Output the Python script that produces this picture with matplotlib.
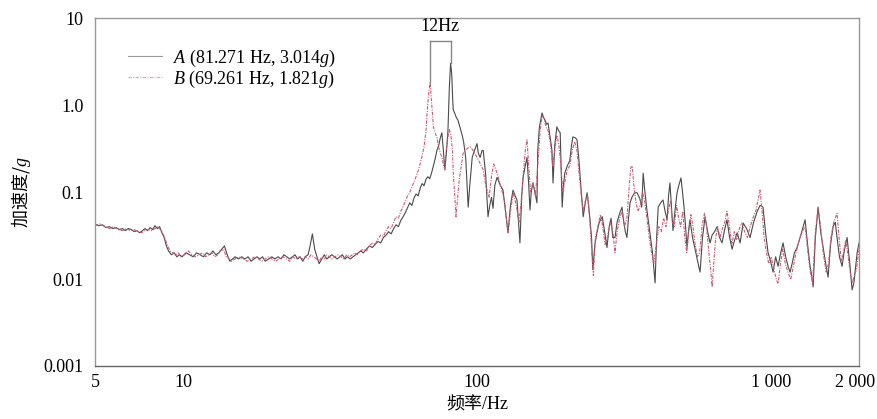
import numpy as np
import matplotlib
matplotlib.use("Agg")
import matplotlib.pyplot as plt
import matplotlib.transforms as mtransforms
from matplotlib.ticker import FixedLocator, FixedFormatter, NullLocator

# 频率 (Hz) / 加速度 (g)
freq_a = [5.0, 5.15, 5.3, 5.45, 5.6, 5.75, 5.9, 6.05, 6.2, 6.35, 6.5, 6.65, 6.8, 6.95, 7.1, 7.25,
          7.4, 7.55, 7.7, 7.85, 8.0, 8.15, 8.3, 8.45, 8.6, 8.75, 8.9, 9.1, 9.3, 9.5, 9.7, 9.9,
          10.2, 10.5, 10.8, 11.1, 11.4, 11.7, 12.0, 12.3, 12.6, 12.9, 13.2, 13.5, 13.8, 14.1,
          14.4, 14.7, 15.0, 15.4, 15.8, 16.2, 16.6, 17.0, 17.4, 17.8, 18.2, 18.6, 19.0, 19.5,
          20.0, 20.5, 21.0, 21.5, 22.0, 22.5, 23.0, 23.5, 24.0, 24.5, 25.0, 25.5, 26.0, 26.6,
          27.0, 27.5, 28.0, 28.5, 29.0, 29.6, 30.2, 30.8, 31.4, 32.0, 32.7, 33.4, 34.1, 34.8,
          35.5, 36.2, 37.0, 37.8, 38.6, 39.4, 40.2, 41.0, 42.0, 43.0, 44.0, 45.0, 46.0, 47.0,
          48.0, 49.0, 50.0, 51.0, 52.0, 53.0, 54.0, 55.0, 56.0, 57.0, 58.0, 59.0, 60.0, 61.0,
          62.0, 63.0, 64.0, 65.0, 66.0, 67.0, 68.0, 69.0, 70.0, 71.0, 72.0, 73.0, 74.0, 75.0,
          75.9, 76.8, 77.7, 78.5, 79.6, 80.5, 81.271, 82.0, 82.6, 83.0, 84.0, 85.0, 86.1, 87.5,
          89.0, 90.0, 91.5, 93.3, 94.5, 96.3, 98.0, 100.0, 101.0, 102.5, 104.0, 105.0, 107.0,
          109.0, 110.5, 112.0, 113.4, 115, 117, 120, 122.6, 125, 127.5, 130, 132.6, 135, 136.8,
          138.5, 140, 142, 143.5, 146, 148, 150, 151.5, 153, 155, 157.5, 160, 161, 163, 166.5,
          168.5, 170.5, 172.5, 174.5, 177, 180, 181.5, 184, 187, 190, 192, 195, 197, 199, 203,
          207, 210, 212, 216, 219, 222, 224, 227, 230, 233, 237, 240, 243, 245.5, 248, 252, 256,
          261, 267, 272, 277, 282, 286, 290, 295, 300, 305, 311.8, 316, 320, 324, 328, 332, 337,
          344, 351, 358, 364, 368, 372, 379, 388, 396, 404, 409, 414, 422, 430, 437, 444, 449,
          454, 459, 465, 472, 480, 487, 495, 501, 507, 513, 519, 525, 531, 542, 553, 564, 575,
          586, 598, 610, 622, 632, 644, 657, 670, 683, 696, 710, 725, 739, 754, 769, 787, 806,
          828, 851, 875, 900, 920, 942, 960, 980, 1000, 1019, 1040, 1060, 1082, 1102, 1125,
          1146, 1165, 1183, 1205, 1230, 1260, 1290, 1310, 1336, 1362, 1380, 1395, 1420, 1451,
          1480, 1509, 1540, 1569, 1600, 1632, 1660, 1683, 1715, 1751, 1785, 1821, 1860, 1894,
          1920, 1939, 1970, 2000]
acc_a = [0.043, 0.041, 0.042, 0.039, 0.040, 0.038, 0.039, 0.037, 0.038, 0.036, 0.038, 0.037, 0.035,
         0.036, 0.034, 0.036, 0.038, 0.036, 0.039, 0.037, 0.041, 0.038, 0.040, 0.034, 0.030, 0.024,
         0.021, 0.019, 0.020, 0.018, 0.019, 0.018, 0.020, 0.019, 0.018, 0.020, 0.019, 0.018, 0.020,
         0.019, 0.021, 0.019, 0.020, 0.022, 0.024, 0.019, 0.016, 0.017, 0.018, 0.017, 0.018, 0.017,
         0.018, 0.016, 0.017, 0.018, 0.017, 0.018, 0.016, 0.017, 0.018, 0.017, 0.018, 0.017, 0.019,
         0.018, 0.017, 0.018, 0.019, 0.017, 0.018, 0.016, 0.018, 0.019, 0.024, 0.033, 0.022, 0.018,
         0.015, 0.017, 0.019, 0.017, 0.018, 0.019, 0.018, 0.017, 0.018, 0.019, 0.017, 0.018, 0.017,
         0.018, 0.019, 0.020, 0.021, 0.020, 0.022, 0.024, 0.023, 0.025, 0.027, 0.026, 0.030, 0.032,
         0.035, 0.033, 0.038, 0.042, 0.040, 0.047, 0.052, 0.058, 0.066, 0.075, 0.070, 0.085, 0.095,
         0.090, 0.110, 0.125, 0.118, 0.140, 0.150, 0.142, 0.165, 0.200, 0.240, 0.300, 0.340, 0.420,
         0.480, 0.300, 0.180, 0.260, 0.500, 1.600, 3.014, 2.300, 1.200, 0.880, 0.800, 0.720, 0.670,
         0.550, 0.450, 0.380, 0.250, 0.067, 0.120, 0.250, 0.300, 0.360, 0.280, 0.250, 0.300, 0.300,
         0.160, 0.052, 0.070, 0.087, 0.065, 0.12, 0.147, 0.12, 0.105, 0.06, 0.034, 0.07, 0.105, 0.09,
         0.081, 0.045, 0.026, 0.09, 0.147, 0.2, 0.25, 0.12, 0.062, 0.1, 0.127, 0.1, 0.075, 0.3, 0.55,
         0.81, 0.72, 0.67, 0.6, 0.62, 0.45, 0.3, 0.127, 0.35, 0.56, 0.5, 0.48, 0.067, 0.12, 0.165,
         0.2, 0.23, 0.35, 0.43, 0.42, 0.4, 0.25, 0.165, 0.09, 0.052, 0.07, 0.098, 0.07, 0.044, 0.03,
         0.0128, 0.025, 0.034, 0.045, 0.052, 0.035, 0.023, 0.04, 0.05, 0.03, 0.03, 0.045, 0.055,
         0.067, 0.045, 0.035, 0.03, 0.05, 0.075, 0.087, 0.098, 0.098, 0.085, 0.067, 0.165, 0.11,
         0.062, 0.034, 0.02, 0.009, 0.03, 0.067, 0.075, 0.081, 0.06, 0.048, 0.09, 0.127, 0.07, 0.036,
         0.06, 0.098, 0.12, 0.145, 0.1, 0.067, 0.04, 0.023, 0.035, 0.048, 0.03, 0.022, 0.016, 0.012,
         0.03, 0.052, 0.035, 0.026, 0.032, 0.035, 0.04, 0.03, 0.026, 0.036, 0.048, 0.03, 0.022,
         0.028, 0.034, 0.026, 0.044, 0.038, 0.03, 0.045, 0.06, 0.07, 0.067, 0.035, 0.02, 0.016,
         0.012, 0.018, 0.014, 0.02, 0.026, 0.018, 0.014, 0.012, 0.015, 0.02, 0.023, 0.03, 0.04,
         0.048, 0.025, 0.014, 0.011, 0.0081, 0.03, 0.067, 0.035, 0.023, 0.015, 0.0105, 0.025, 0.04,
         0.045, 0.03, 0.018, 0.014, 0.022, 0.03, 0.015, 0.0075, 0.009, 0.012, 0.02, 0.026]

freq_b = [5.0, 5.2, 5.4, 5.6, 5.8, 6.0, 6.2, 6.4, 6.6, 6.8, 7.0, 7.2, 7.4, 7.6, 7.8, 8.0, 8.2, 8.4,
          8.6, 8.8, 9.0, 9.2, 9.4, 9.6, 9.8, 10.1, 10.4, 10.7, 11.0, 11.3, 11.6, 11.9, 12.2, 12.5,
          12.8, 13.1, 13.4, 13.7, 14.0, 14.3, 14.6, 15.0, 15.5, 16.0, 16.5, 17.0, 17.5, 18.0, 18.5,
          19.0, 19.5, 20.0, 20.6, 21.2, 21.8, 22.4, 23.0, 23.6, 24.2, 24.8, 25.4, 26.0, 26.6, 27.2,
          27.8, 28.4, 29.0, 29.6, 30.2, 30.8, 31.4, 32.0, 32.8, 33.6, 34.4, 35.2, 36.0, 36.8, 37.6,
          38.4, 39.2, 40.0, 41.0, 42.0, 43.0, 44.0, 45.0, 46.0, 47.0, 48.0, 49.0, 50.0, 51.0, 52.0,
          53.0, 54.0, 55.0, 56.0, 57.0, 58.0, 59.0, 60.0, 61.0, 62.0, 63.0, 64.0, 65.0, 66.0, 67.0,
          67.6, 68.5, 69.261, 69.8, 70.5, 71.0, 72.0, 73.0, 74.0, 75.0, 76.0, 77.0, 77.7, 78.5, 79.5,
          80.5, 81.5, 82.5, 83.0, 84.0, 84.8, 86.0, 87.0, 88.0, 89.7, 91.0, 93.0, 95.0, 97.0, 100.0,
          102.0, 105.0, 107.0, 110.0, 112.0, 114.0, 116.0, 118.0, 121.0, 124.0, 127.5, 130.0, 133.0,
          136.0, 139.0, 141.0, 143.5, 146.0, 148.0, 150.0, 152.0, 155.0, 158.0, 161.0, 164.0, 166.5,
          169.0, 172.0, 175.0, 178.0, 181.0, 184.0, 187.0, 190.0, 193.0, 196.0, 199.0, 203.0, 207.0,
          211.0, 215.0, 219.0, 222.0, 226.0, 230.0, 234.0, 238.0, 242.0, 246.0, 249.0, 253.0, 258.0,
          263.0, 268.0, 273.0, 278.0, 284.0, 290.0, 295.0, 300.0, 306.0, 312.0, 318.0, 324.0, 330.0,
          334.0, 338.0, 342.0, 347.0, 353.0, 360.0, 366.0, 372.0, 379.0, 386.0, 393.0, 400.0, 408.0,
          416.0, 424.0, 432.0, 440.0, 448.0, 456.0, 463.0, 470.0, 478.0, 486.0, 494.0, 502.0, 510.0,
          518.0, 526.0, 535.0, 544.0, 553.0, 563.0, 573.0, 584.0, 595.0, 605.0, 616.0, 626.0, 632.0,
          640.0, 650.0, 660.0, 672.0, 685.0, 698.0, 710.0, 724.0, 738.0, 752.0, 766.0, 782.0, 798.0,
          815.0, 833.0, 852.0, 870.0, 890.0, 905.0, 920.0, 935.0, 950.0, 968.0, 985.0, 1005.0,
          1025.0, 1045.0, 1060.0, 1080.0, 1100.0, 1122.0, 1146.0, 1170.0, 1195.0, 1220.0, 1250.0,
          1280.0, 1310.0, 1340.0, 1365.0, 1390.0, 1420.0, 1451.0, 1480.0, 1510.0, 1545.0, 1575.0,
          1605.0, 1640.0, 1683.0, 1710.0, 1740.0, 1770.0, 1800.0, 1830.0, 1865.0, 1900.0, 1930.0,
          1960.0, 1985.0, 2000.0]
acc_b = [0.041, 0.043, 0.040, 0.038, 0.040, 0.037, 0.036, 0.038, 0.036, 0.037, 0.035, 0.034, 0.036,
         0.037, 0.036, 0.038, 0.040, 0.036, 0.031, 0.025, 0.021, 0.020, 0.019, 0.020, 0.018, 0.019,
         0.021, 0.019, 0.018, 0.019, 0.020, 0.018, 0.019, 0.020, 0.018, 0.019, 0.021, 0.022, 0.018,
         0.017, 0.016, 0.017, 0.018, 0.017, 0.016, 0.017, 0.018, 0.017, 0.016, 0.017, 0.018, 0.017,
         0.016, 0.017, 0.018, 0.017, 0.016, 0.018, 0.017, 0.018, 0.017, 0.018, 0.017, 0.019, 0.018,
         0.017, 0.016, 0.018, 0.017, 0.019, 0.018, 0.017, 0.018, 0.019, 0.018, 0.017, 0.019, 0.018,
         0.019, 0.020, 0.019, 0.021, 0.022, 0.021, 0.024, 0.026, 0.025, 0.029, 0.032, 0.031, 0.036,
         0.040, 0.038, 0.045, 0.052, 0.050, 0.060, 0.068, 0.078, 0.090, 0.098, 0.115, 0.130, 0.150,
         0.175, 0.210, 0.260, 0.330, 0.500, 0.810, 1.400, 1.821, 1.230, 0.800, 0.560, 0.480, 0.420,
         0.330, 0.280, 0.250, 0.200, 0.180, 0.300, 0.420, 0.520, 0.450, 0.300, 0.165, 0.090, 0.052,
         0.090, 0.140, 0.180, 0.280, 0.300, 0.320, 0.330, 0.300, 0.250, 0.220, 0.180, 0.120, 0.087,
         0.150, 0.210, 0.180, 0.150, 0.110, 0.080, 0.034, 0.060, 0.100, 0.070, 0.045, 0.070, 0.150,
         0.300, 0.400, 0.200, 0.100, 0.130, 0.090, 0.200, 0.500, 0.750, 0.700, 0.550, 0.500, 0.350,
         0.200, 0.300, 0.450, 0.350, 0.200, 0.100, 0.130, 0.180, 0.200, 0.300, 0.380, 0.300, 0.180,
         0.100, 0.060, 0.080, 0.090, 0.050, 0.020, 0.011, 0.030, 0.040, 0.055, 0.040, 0.025, 0.030,
         0.045, 0.035, 0.020, 0.035, 0.050, 0.060, 0.040, 0.050, 0.120, 0.190, 0.200, 0.120, 0.080,
         0.060, 0.070, 0.100, 0.080, 0.050, 0.030, 0.020, 0.015, 0.025, 0.040, 0.035, 0.050, 0.040,
         0.060, 0.080, 0.045, 0.040, 0.070, 0.050, 0.040, 0.060, 0.030, 0.020, 0.035, 0.055, 0.040,
         0.025, 0.018, 0.020, 0.040, 0.057, 0.040, 0.020, 0.012, 0.0081, 0.015, 0.030, 0.040, 0.030,
         0.038, 0.045, 0.060, 0.040, 0.025, 0.035, 0.028, 0.038, 0.044, 0.035, 0.030, 0.040, 0.050,
         0.060, 0.080, 0.105, 0.060, 0.030, 0.020, 0.015, 0.018, 0.013, 0.010, 0.0088, 0.015, 0.022,
         0.015, 0.012, 0.0098, 0.014, 0.020, 0.028, 0.035, 0.040, 0.020, 0.012, 0.009, 0.035, 0.065,
         0.040, 0.020, 0.012, 0.015, 0.030, 0.045, 0.057, 0.030, 0.016, 0.020, 0.028, 0.020, 0.012,
         0.009, 0.011, 0.013, 0.018, 0.022]

peak_a = (81.271, 3.014)
peak_b = (69.261, 1.821)
bracket_top = 5.5

xticks = [5, 10, 100, 1000, 2000]
xtick_labels = ["5", "10", "100", "1 000", "2 000"]
yticks = [0.001, 0.01, 0.1, 1.0, 10]
ytick_labels = ["0.001", "0.01", "0.1", "1.0", "10"]

plt.rcParams['font.family'] = ['Liberation Serif', 'Noto Sans CJK SC']
plt.rcParams['mathtext.fontset'] = 'custom'
plt.rcParams['mathtext.rm'] = 'Liberation Serif'
plt.rcParams['mathtext.it'] = 'Liberation Serif:italic'

fig = plt.figure(figsize=(8.78, 4.19), dpi=100)
ax = fig.add_axes([0.1082, 0.1265, 0.8702, 0.8305])

ax.plot(freq_a, acc_a, color='#4a4a4a', lw=0.8,
        label=r'$A$ (81.271 Hz, 3.014$g$)')
ax.plot(freq_b, acc_b, color='#cc5a78', lw=0.8, linestyle=(0, (3, 1.2, 1, 1.2)),
        label=r'$B$ (69.261 Hz, 1.821$g$)')

# 12Hz 标注
ax.plot([peak_b[0], peak_b[0]], [peak_b[1], bracket_top], color='#888888', lw=1.0)
ax.plot([peak_a[0], peak_a[0]], [peak_a[1], bracket_top], color='#888888', lw=1.0)
ax.plot([peak_b[0], peak_a[0]], [bracket_top, bracket_top], color='#888888', lw=1.0)
ax.text(np.sqrt(peak_a[0] * peak_b[0]), 7.9, '12Hz', ha='center', va='center', fontsize=13)

ax.set_xscale('log')
ax.set_yscale('log')
ax.set_xlim(5, 2000)
ax.set_ylim(0.001, 10)
ax.xaxis.set_major_locator(FixedLocator(xticks))
ax.xaxis.set_major_formatter(FixedFormatter(xtick_labels))
ax.xaxis.set_minor_locator(NullLocator())
ax.yaxis.set_major_locator(FixedLocator(yticks))
ax.yaxis.set_major_formatter(FixedFormatter(ytick_labels))
ax.yaxis.set_minor_locator(NullLocator())
ax.tick_params(length=0, labelsize=13, pad=8)
ax.tick_params(axis='x', pad=6)
for s in ax.spines.values():
    s.set_color('#999999')
    s.set_linewidth(1.0)
ax.spines['bottom'].set_color('#666666')

# 最右边的 "2 000" 稍微左移，避免被裁掉
last = ax.get_xticklabels()[-1]
last.set_transform(last.get_transform() + mtransforms.ScaledTranslation(-4 / 100, 0, fig.dpi_scale_trans))

ax.set_xlabel('频率/Hz', fontsize=13, labelpad=4)
ax.set_ylabel('加速度/$g$', fontsize=13, family=['Noto Sans CJK SC'], labelpad=8)

leg = ax.legend(loc='upper left', bbox_to_anchor=(0.022, 0.962), frameon=False, fontsize=13,
                handlelength=1.9, handletextpad=0.6, labelspacing=0.0)
leg.get_lines()[0].set_color('#999999')
leg.get_lines()[1].set_color('#e8a0b0')

fig.savefig('out.png', dpi=100)
